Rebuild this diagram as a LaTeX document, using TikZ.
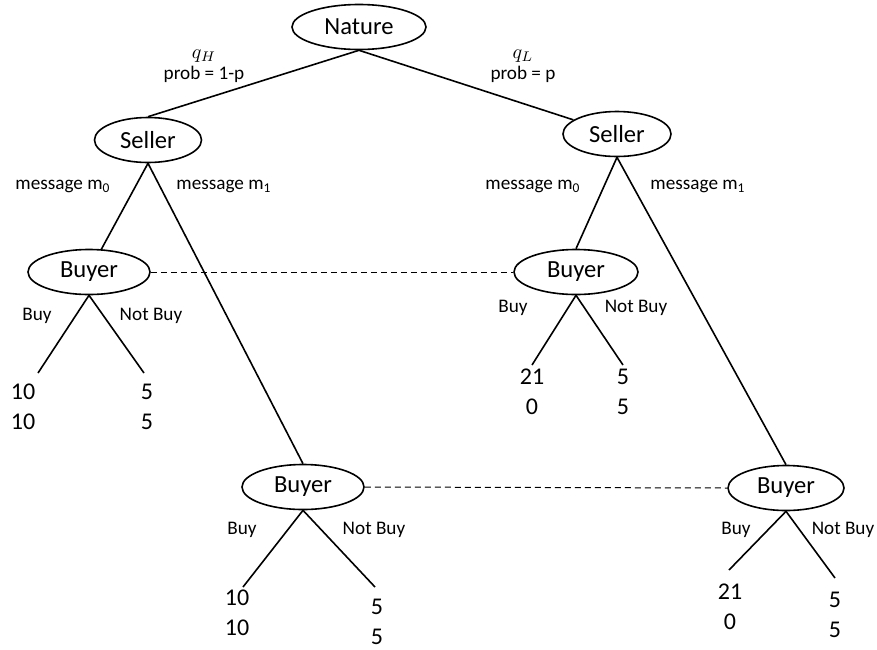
\documentclass[tikz,border=0pt]{standalone}
\usepackage{fontspec}
\setmainfont{Carlito}
\usetikzlibrary{shapes.geometric}

\begin{document}
\begin{tikzpicture}[
  x=0.5pt, y=-0.5pt,
  player/.style={ellipse, draw=black, line width=0.8pt, inner sep=0pt,
                 minimum width=#1, minimum height=22.5pt,
                 font=\fontsize{12.3}{14}\selectfont},
  edge/.style={line width=0.8pt},
  info/.style={line width=0.5pt, dash pattern=on 3pt off 2pt},
  lbl/.style={font=\fontsize{9.6}{10.5}\selectfont, align=center, inner sep=0pt},
  pay/.style={font=\fontsize{12}{15}\selectfont, align=center, inner sep=0pt}
]
\useasboundingbox (0,0) rectangle (877,649);
\node[player=67pt]   (nature)  at (359,27)  {Nature};
\node[player=53.5pt] (sellerL) at (148,140) {Seller};
\node[player=54pt]   (sellerR) at (617,134) {Seller};
\node[player=61pt]   (buyerL)  at (89,272)  {Buyer};
\node[player=62pt]   (buyerR)  at (576,272) {Buyer};
\node[player=61pt]   (buyerLL) at (303,487) {Buyer};
\node[player=58pt]   (buyerRR) at (786,488) {Buyer};
\coordinate (endLa)  at (38,373);
\coordinate (endLb)  at (144,373);
\coordinate (endRa)  at (532,365);
\coordinate (endRb)  at (623,365);
\coordinate (endLLa) at (243,587);
\coordinate (endLLb) at (375,587);
\coordinate (endRRa) at (729,570);
\coordinate (endRRb) at (835,578);
\draw[edge] (nature.south) -- (sellerL.north);
\draw[edge] (nature.south) -- (sellerR);
\draw[edge] (sellerL.south) -- (buyerL);
\draw[edge] (sellerL.south) -- (buyerLL.north);
\draw[edge] (sellerR.south) -- (buyerR.north);
\draw[edge] (sellerR.south) -- (buyerRR.north);
\foreach \b/\e in {buyerL/endLa, buyerL/endLb, buyerR/endRa, buyerR/endRb,
                   buyerLL/endLLa, buyerLL/endLLb, buyerRR/endRRa, buyerRR/endRRb}
  \draw[edge] (\b.south) -- (\e);
\draw[info] (buyerL.east) -- (buyerR.west);
\draw[info] (buyerLL.east) -- (buyerRR.west);
\node[lbl] (probH) at (204,66) {$q_H$\\prob = 1-p};
\node[lbl] (probL) at (523,66) {$q_L$\\prob = p};
\node[lbl] (msgL0) at (63,186)  {message m\textsubscript{0}};
\node[lbl] (msgL1) at (224,186) {message m\textsubscript{1}};
\node[lbl] (msgR0) at (533,186) {message m\textsubscript{0}};
\node[lbl] (msgR1) at (698,186) {message m\textsubscript{1}};
\node[lbl] (buyL)   at (37,316)  {Buy};
\node[lbl] (nbuyL)  at (151,316) {Not Buy};
\node[lbl] (buyR)   at (513,308) {Buy};
\node[lbl] (nbuyR)  at (636,308) {Not Buy};
\node[lbl] (buyLL)  at (242,530) {Buy};
\node[lbl] (nbuyLL) at (374,530) {Not Buy};
\node[lbl] (buyRR)  at (736,530) {Buy};
\node[lbl] (nbuyRR) at (843,530) {Not Buy};
\node[pay] (payLa)  at (23,407)  {10\\10};
\node[pay] (payLb)  at (147,407) {5\\5};
\node[pay] (payRa)  at (532,392) {21\\0};
\node[pay] (payRb)  at (623,392) {5\\5};
\node[pay] (payLLa) at (237,613) {10\\10};
\node[pay] (payLLb) at (377,622) {5\\5};
\node[pay] (payRRa) at (730,607) {21\\0};
\node[pay] (payRRb) at (835,615) {5\\5};
\end{tikzpicture}
\end{document}
